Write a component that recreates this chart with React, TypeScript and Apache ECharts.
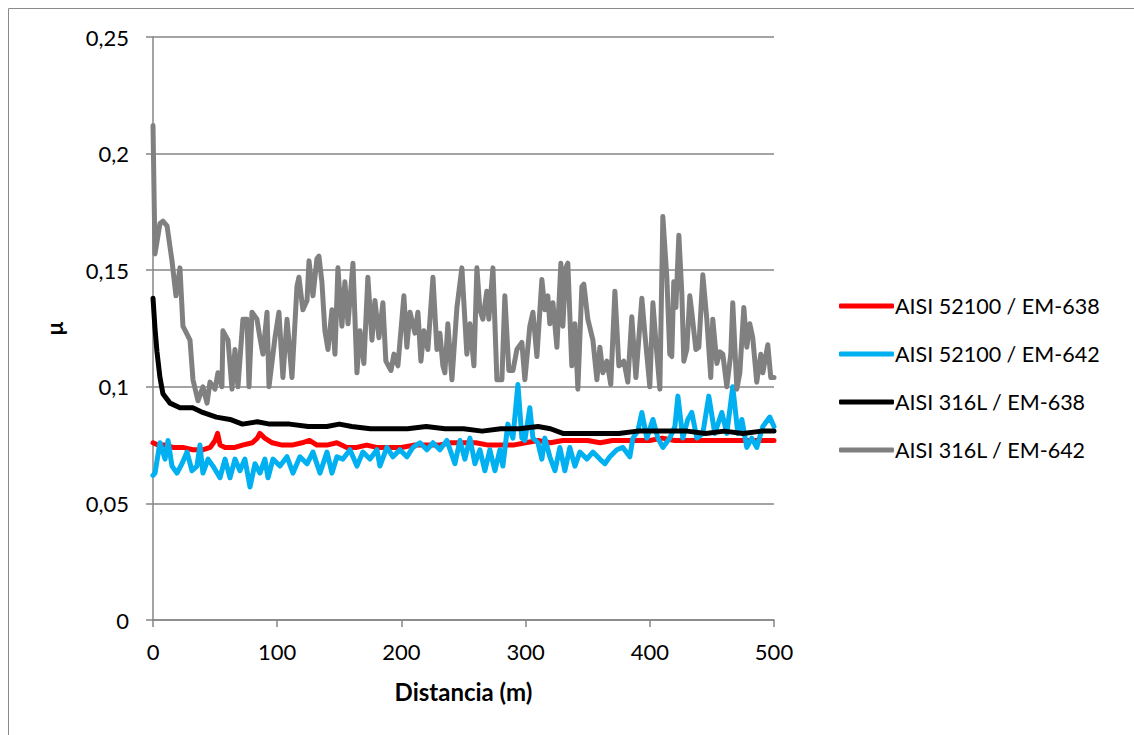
import React, { useEffect, useRef } from "react";
import * as echarts from "echarts";

const seriesNames = [
  "AISI 52100 / EM-638",
  "AISI 52100 / EM-642",
  "AISI 316L / EM-638",
  "AISI 316L / EM-642",
];

const xTicks = [0, 100, 200, 300, 400, 500];
const yTicks = [0, 0.05, 0.1, 0.15, 0.2, 0.25];

const redD = [0, 4, 10, 16, 24, 32, 40, 46, 50, 52, 54, 58, 66, 72, 80, 84, 86, 90, 96, 104, 112, 120, 126, 132, 140, 148, 156, 164, 172, 180, 190, 200, 210, 220, 230, 240, 250, 260, 270, 280, 290, 300, 310, 320, 330, 340, 350, 360, 370, 380, 390, 400, 410, 420, 430, 440, 450, 460, 470, 480, 490, 500];
const redV = [0.076, 0.075, 0.075, 0.074, 0.074, 0.073, 0.073, 0.074, 0.077, 0.08, 0.075, 0.074, 0.074, 0.075, 0.076, 0.078, 0.08, 0.078, 0.076, 0.075, 0.075, 0.076, 0.077, 0.075, 0.075, 0.076, 0.074, 0.074, 0.075, 0.074, 0.074, 0.074, 0.075, 0.075, 0.075, 0.076, 0.076, 0.076, 0.075, 0.075, 0.075, 0.076, 0.077, 0.076, 0.077, 0.077, 0.077, 0.076, 0.077, 0.077, 0.077, 0.077, 0.078, 0.077, 0.077, 0.077, 0.077, 0.077, 0.077, 0.077, 0.077, 0.077];

const blueD = [0, 1.6, 5.6, 9.7, 12.1, 15.3, 19.3, 23.3, 27.4, 31.4, 35.4, 37.8, 40.2, 44.3, 48.3, 53.9, 58.0, 62.0, 66.0, 70.0, 74.0, 78.1, 82.1, 86.1, 90.1, 92.6, 96.6, 102.2, 107.9, 112.7, 118.3, 124.0, 128.8, 134.4, 140.1, 144.1, 148.1, 152.9, 158.6, 164.2, 169.0, 174.7, 180.3, 182.7, 188.3, 193.2, 198.8, 204.4, 209.3, 214.9, 220.5, 225.4, 231.0, 236.6, 243.1, 247.1, 251.1, 255.2, 259.2, 263.2, 267.2, 271.2, 275.3, 279.3, 281.7, 285.7, 289.8, 293.8, 297.0, 299.4, 303.4, 305.9, 309.9, 313.1, 315.5, 319.5, 323.6, 327.6, 331.6, 335.6, 339.7, 343.7, 349.3, 354.2, 359.8, 363.8, 367.8, 373.5, 378.3, 383.9, 386.4, 390.4, 393.6, 397.6, 402.5, 406.5, 410.5, 416.1, 420.2, 422.6, 426.6, 430.6, 433.8, 437.9, 442.7, 447.5, 452.3, 458.0, 462.0, 466.8, 470.9, 474.1, 478.1, 482.1, 486.1, 491.0, 496.6, 500.0];
const blueV = [0.062, 0.063, 0.076, 0.069, 0.077, 0.066, 0.063, 0.067, 0.072, 0.064, 0.066, 0.075, 0.063, 0.069, 0.066, 0.061, 0.069, 0.061, 0.069, 0.064, 0.069, 0.057, 0.067, 0.063, 0.069, 0.061, 0.069, 0.066, 0.07, 0.063, 0.07, 0.067, 0.072, 0.063, 0.072, 0.063, 0.07, 0.069, 0.073, 0.066, 0.072, 0.069, 0.073, 0.066, 0.074, 0.07, 0.073, 0.07, 0.074, 0.076, 0.073, 0.076, 0.073, 0.077, 0.067, 0.077, 0.069, 0.078, 0.067, 0.073, 0.064, 0.073, 0.064, 0.073, 0.066, 0.084, 0.078, 0.101, 0.078, 0.077, 0.091, 0.078, 0.076, 0.069, 0.078, 0.07, 0.064, 0.074, 0.064, 0.074, 0.066, 0.072, 0.069, 0.072, 0.069, 0.067, 0.07, 0.073, 0.074, 0.07, 0.078, 0.081, 0.089, 0.078, 0.086, 0.078, 0.074, 0.078, 0.083, 0.096, 0.078, 0.086, 0.089, 0.078, 0.08, 0.096, 0.08, 0.089, 0.08, 0.1, 0.08, 0.086, 0.074, 0.078, 0.074, 0.083, 0.087, 0.083];

const blackD = [0, 1.6, 3.2, 5.6, 8, 13.7, 21.7, 32, 40, 51, 62, 72, 84, 94, 110, 125, 140, 150, 160, 175, 190, 205, 220, 235, 250, 265, 280, 295, 310, 320, 330, 345, 360, 375, 390, 400, 415, 430, 445, 460, 475, 490, 500];
const blackV = [0.138, 0.125, 0.115, 0.104, 0.097, 0.093, 0.091, 0.091, 0.089, 0.087, 0.086, 0.084, 0.085, 0.084, 0.084, 0.083, 0.083, 0.084, 0.083, 0.082, 0.082, 0.082, 0.083, 0.082, 0.082, 0.081, 0.082, 0.082, 0.083, 0.082, 0.08, 0.08, 0.08, 0.08, 0.081, 0.081, 0.081, 0.081, 0.08, 0.081, 0.08, 0.081, 0.081];

const grayD = [0, 1.6, 5.6, 8.0, 11.3, 15.3, 18.5, 21.7, 24.1, 29.8, 32.2, 36.2, 40.2, 43.5, 45.9, 49.9, 52.3, 55.5, 56.3, 60.4, 63.6, 66.0, 68.4, 72.4, 75.7, 77.3, 79.7, 83.7, 86.1, 88.5, 91.8, 93.4, 98.2, 101.4, 104.6, 107.9, 111.9, 115.9, 117.5, 120.7, 124.0, 125.6, 128.8, 132.0, 133.6, 136.0, 138.4, 140.9, 144.1, 146.5, 148.9, 152.1, 154.5, 157.0, 161.0, 164.2, 166.6, 169.8, 173.0, 176.3, 178.7, 181.9, 185.1, 187.5, 191.6, 194.0, 197.2, 202.0, 204.4, 206.9, 210.9, 213.3, 215.7, 218.1, 221.3, 225.4, 228.6, 231.0, 233.4, 235.0, 237.4, 240.7, 244.7, 248.7, 252.7, 255.2, 258.4, 260.8, 263.2, 265.6, 268.8, 270.4, 273.7, 276.9, 280.9, 283.3, 286.5, 289.8, 293.0, 297.0, 299.4, 303.4, 305.9, 309.1, 313.1, 315.5, 317.9, 319.5, 322.0, 325.2, 328.4, 330.0, 332.4, 334.0, 337.2, 339.7, 342.1, 345.3, 346.9, 350.1, 354.2, 357.4, 359.8, 362.2, 365.4, 368.6, 371.9, 375.1, 379.1, 382.3, 385.5, 388.8, 393.6, 396.0, 400.0, 402.5, 405.7, 408.1, 410.5, 413.7, 416.1, 417.7, 419.3, 421.0, 423.4, 425.8, 427.4, 429.8, 432.2, 433.8, 437.1, 439.5, 442.7, 445.9, 449.1, 450.7, 454.0, 456.4, 458.8, 462.0, 465.2, 466.8, 470.1, 472.5, 475.7, 478.1, 480.5, 482.9, 486.1, 489.4, 491.0, 495.0, 497.4, 500.0];
const grayV = [0.212, 0.157, 0.17, 0.171, 0.169, 0.154, 0.139, 0.151, 0.126, 0.12, 0.103, 0.094, 0.1, 0.093, 0.102, 0.099, 0.106, 0.1, 0.124, 0.12, 0.099, 0.116, 0.1, 0.129, 0.129, 0.1, 0.132, 0.129, 0.121, 0.114, 0.132, 0.1, 0.121, 0.132, 0.104, 0.129, 0.104, 0.143, 0.147, 0.133, 0.137, 0.154, 0.139, 0.155, 0.156, 0.145, 0.124, 0.116, 0.133, 0.114, 0.151, 0.126, 0.145, 0.127, 0.153, 0.106, 0.124, 0.11, 0.147, 0.12, 0.137, 0.121, 0.136, 0.111, 0.107, 0.114, 0.109, 0.139, 0.117, 0.132, 0.123, 0.132, 0.111, 0.124, 0.116, 0.147, 0.116, 0.123, 0.109, 0.106, 0.127, 0.103, 0.134, 0.151, 0.114, 0.127, 0.109, 0.151, 0.133, 0.129, 0.141, 0.129, 0.151, 0.103, 0.103, 0.139, 0.107, 0.107, 0.116, 0.119, 0.103, 0.126, 0.132, 0.113, 0.146, 0.133, 0.139, 0.127, 0.136, 0.117, 0.153, 0.126, 0.151, 0.153, 0.109, 0.127, 0.099, 0.143, 0.144, 0.129, 0.12, 0.103, 0.117, 0.106, 0.111, 0.101, 0.141, 0.109, 0.111, 0.102, 0.13, 0.104, 0.138, 0.123, 0.1, 0.136, 0.114, 0.099, 0.173, 0.147, 0.114, 0.113, 0.145, 0.134, 0.165, 0.14, 0.111, 0.116, 0.139, 0.132, 0.116, 0.117, 0.148, 0.129, 0.104, 0.129, 0.11, 0.115, 0.114, 0.1, 0.114, 0.136, 0.099, 0.106, 0.134, 0.117, 0.127, 0.121, 0.102, 0.114, 0.106, 0.118, 0.104, 0.104];

const colors = ["#FF0000", "#00B0F0", "#000000", "#808080"];
const FONT = "Lato, 'Open Sans', sans-serif";

const zip = (d: number[], v: number[]) => d.map((x, i) => [x, v[i]]);

export default function App() {
  const ref = useRef<HTMLDivElement>(null);
  useEffect(() => {
    if (!ref.current) return;
    const chart = echarts.init(ref.current, undefined, { renderer: "svg" });
    const allData = [zip(redD, redV), zip(blueD, blueV), zip(blackD, blackV), zip(grayD, grayV)];
    chart.setOption({
      animation: false,
      backgroundColor: "#ffffff",
      grid: { left: 153, right: 360, top: 37, bottom: 115, containLabel: false },
      graphic: [
        {
          type: "rect",
          silent: true,
          z: -10,
          shape: { x: 8.5, y: 8.5, width: 1200, height: 800 },
          style: { fill: "none", stroke: "#8a8a8a", lineWidth: 1 },
        },
      ],
      legend: {
        orient: "vertical",
        left: 834,
        top: 288,
        itemWidth: 55,
        itemHeight: 5,
        itemGap: 22,
        icon: "roundRect",
        data: seriesNames,
        textStyle: { fontFamily: FONT, fontSize: 21.5, color: "#000", lineHeight: 26, padding: [0, 0, 0, -4] },
      },
      xAxis: {
        type: "value",
        min: xTicks[0],
        max: xTicks[xTicks.length - 1],
        interval: 100,
        name: "Distancia (m)",
        nameLocation: "middle",
        nameGap: 59,
        nameTextStyle: { fontFamily: FONT, fontSize: 24, fontWeight: "bold", color: "#000" },
        axisLine: { show: true, lineStyle: { color: "#868686", width: 1.5 } },
        axisTick: { show: true, length: 7, lineStyle: { color: "#868686", width: 1.5 } },
        axisLabel: { fontFamily: FONT, fontSize: 22, color: "#000", margin: 20 },
        splitLine: { show: false },
      },
      yAxis: {
        type: "value",
        min: yTicks[0],
        max: yTicks[yTicks.length - 1],
        interval: 0.05,
        name: "μ",
        nameLocation: "middle",
        nameGap: 88,
        nameRotate: 90,
        nameTextStyle: { fontFamily: FONT, fontSize: 22, fontWeight: "bold", color: "#000" },
        axisLine: { show: true, lineStyle: { color: "#868686", width: 1.5 } },
        axisTick: { show: true, length: 7, lineStyle: { color: "#868686", width: 1.5 } },
        axisLabel: {
          fontFamily: FONT,
          fontSize: 22,
          color: "#000",
          margin: 24,
          formatter: (v: number) => String(+v.toFixed(2)).replace(".", ","),
        },
        splitLine: { show: true, lineStyle: { color: "#868686", width: 1.5 } },
      },
      series: seriesNames.map((name, i) => ({
        name,
        type: "line",
        data: allData[i],
        symbol: "none",
        showSymbol: false,
        color: colors[i],
        lineStyle: { color: colors[i], width: 5, cap: "round", join: "round" },
        z: 2 + i,
      })),
    });
    return () => chart.dispose();
  }, []);
  return (
    <div
      ref={ref}
      style={{ position: "fixed", left: 0, top: 0, width: 1134, height: 735, background: "#fff" }}
    />
  );
}
